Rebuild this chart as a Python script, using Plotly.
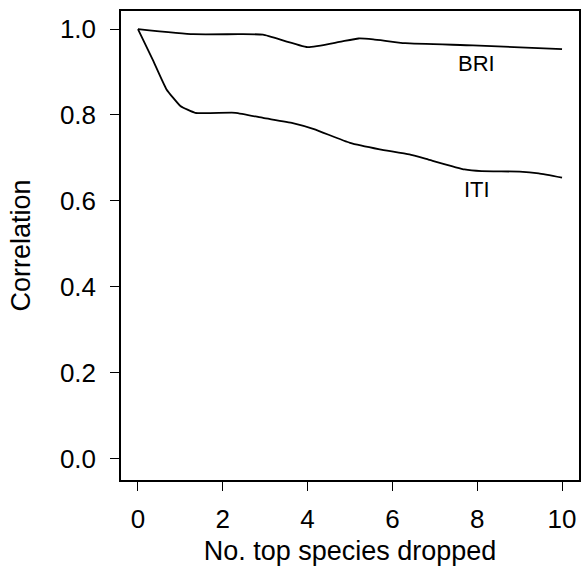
import plotly.graph_objects as go

# Data
bri_x = [0, 1.3, 2.4, 2.95, 4.0, 4.75, 5.2, 5.55, 6.3, 7.9, 10]
bri_y = [1.0, 0.988, 0.988, 0.987, 0.958, 0.970, 0.978, 0.976, 0.967, 0.962, 0.953]

iti_x = [0, 0.35, 0.67, 1.0, 1.35, 2.3, 2.95, 3.65, 4.15, 5.0, 5.7, 6.4, 6.85, 7.7, 8.1, 9.0, 9.45, 10]
iti_y = [1.0, 0.928, 0.860, 0.821, 0.805, 0.805, 0.793, 0.781, 0.767, 0.735, 0.720, 0.708, 0.696, 0.673, 0.669, 0.668, 0.664, 0.654]

series_labels = ["BRI", "ITI"]
label_x = [7.99, 7.99]
label_y = [0.920, 0.627]

x_ticks = [0, 2, 4, 6, 8, 10]
y_ticks = [0.0, 0.2, 0.4, 0.6, 0.8, 1.0]
y_tick_text = ["0.0", "0.2", "0.4", "0.6", "0.8", "1.0"]

FONT = "Liberation Sans, Arial, Helvetica, sans-serif"

fig = go.Figure()
for xs, ys in [(bri_x, bri_y), (iti_x, iti_y)]:
    fig.add_trace(go.Scatter(x=xs, y=ys, mode="lines",
                             line=dict(color="black", width=1.8, shape="spline", smoothing=0.4),
                             showlegend=False, hoverinfo="skip"))

for t, lx, ly in zip(series_labels, label_x, label_y):
    fig.add_annotation(x=lx, y=ly, text=t, showarrow=False,
                       font=dict(family=FONT, size=22, color="black"),
                       xanchor="center", yanchor="middle")

fig.update_layout(
    width=581, height=566,
    margin=dict(l=121, r=0, t=11, b=85),
    paper_bgcolor="white", plot_bgcolor="white",
    font=dict(family=FONT, color="black"),
)
fig.update_xaxes(
    range=[-0.4, 10.4], tickvals=x_ticks, ticktext=[str(v) for v in x_ticks],
    showgrid=False, zeroline=False,
    showline=True, linecolor="black", linewidth=1.5, mirror=True,
    ticks="outside", ticklen=9, tickwidth=1.2, tickcolor="black",
    ticklabelstandoff=6,
    tickfont=dict(family=FONT, size=26, color="black"),
    title=dict(text="No. top species dropped", font=dict(family=FONT, size=27, color="black"), standoff=13),
)
fig.update_yaxes(
    range=[-0.05, 1.042], tickvals=y_ticks, ticktext=y_tick_text,
    showgrid=False, zeroline=False,
    showline=True, linecolor="black", linewidth=1.5, mirror=True,
    ticks="outside", ticklen=9, tickwidth=1.2, tickcolor="black",
    ticklabelstandoff=9,
    tickfont=dict(family=FONT, size=26, color="black"),
    title=dict(text="Correlation", font=dict(family=FONT, size=27, color="black"), standoff=21),
)

fig.write_html("out.html")
